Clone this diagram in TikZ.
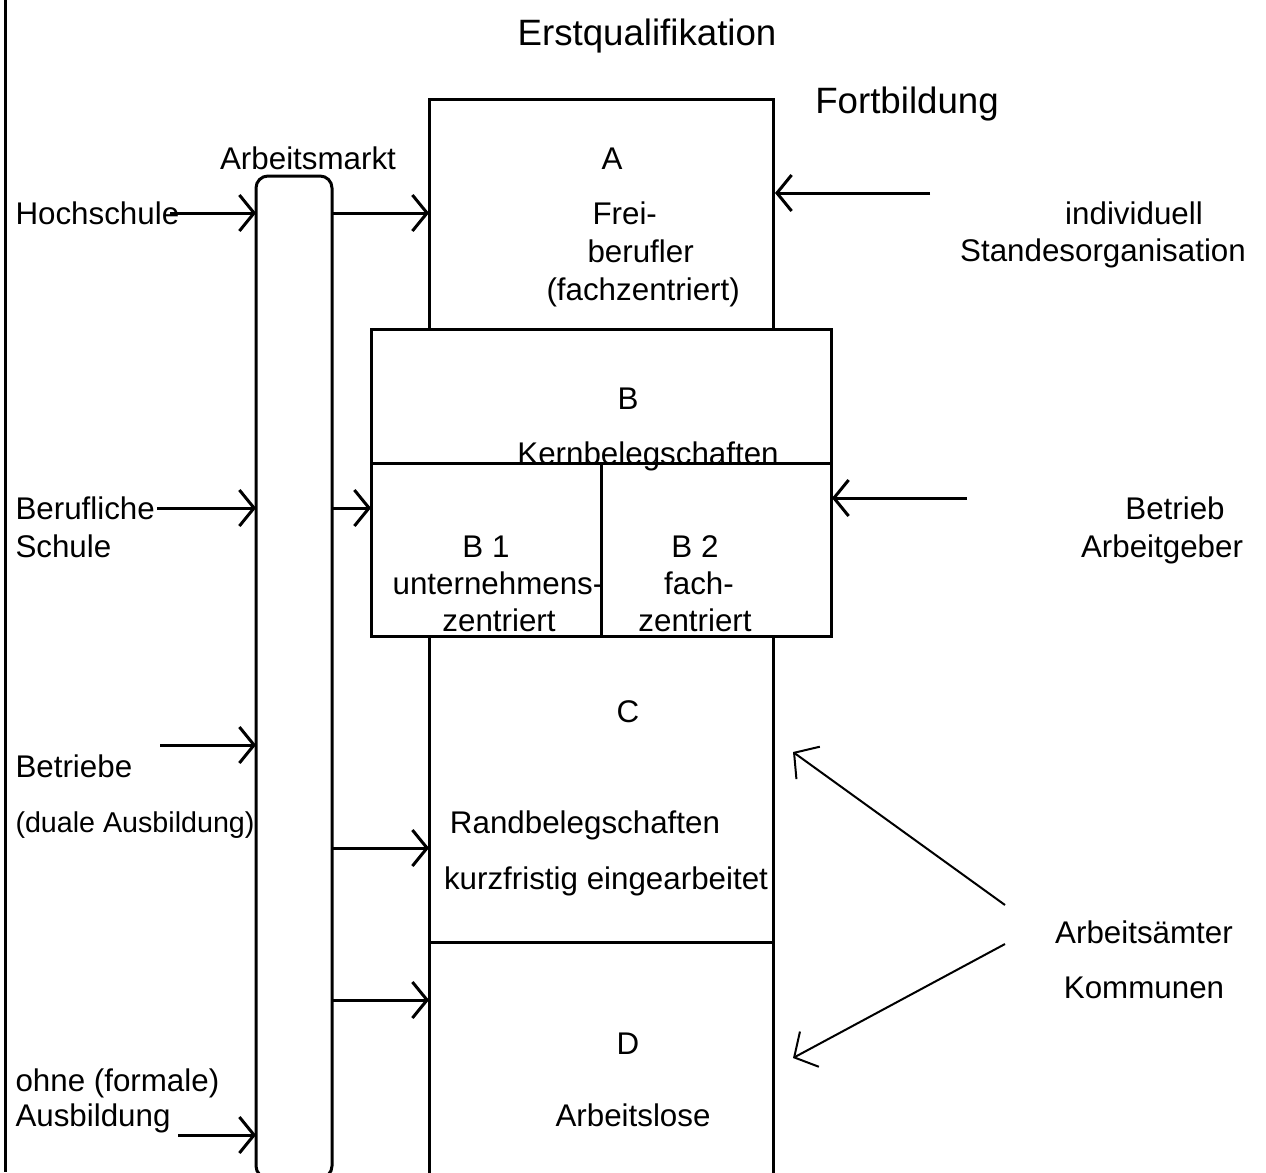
\documentclass[tikz,border=0pt]{standalone}
\usepackage{fontspec}
\setmainfont{Liberation Sans}
\usetikzlibrary{arrows.meta}
\begin{document}
\begin{tikzpicture}[x=0.75pt,y=-0.75pt,line width=2.25pt,
  arr/.style={-{Straight Barb[length=11pt,width=27pt]}},
  darr/.style={line width=1.5pt,-{Straight Barb[length=13pt,width=30pt]}},
  txt/.style={inner sep=0pt,font=\fontsize{23.5}{28}\selectfont},
  big/.style={inner sep=0pt,font=\fontsize{27.5}{33}\selectfont},
  small/.style={inner sep=0pt,font=\fontsize{21.5}{26}\selectfont}]
\useasboundingbox (0,0) rectangle (1266,1172);

% left border
\draw (5,0) -- (5,1172);

% Arbeitsmarkt column
\node (am) [draw,rounded corners=9pt,inner sep=0pt,minimum width=57pt,minimum height=751.5pt] at (294,677) {};

% main column
\draw (429,329) -- (429,99) -- (773,99) -- (773,329);
\draw (371,329) rectangle (831,636);
\draw (371,463) -- (831,463);
\draw (601,463) -- (601,636);
\draw (429,636) -- (429,1180);
\draw (773,636) -- (773,1180);
\draw (429,942) -- (773,942);

% texts
\node[big,anchor=base] (t1) at (647,45) {Erstqualifikation};
\node[big,anchor=base] (t2) at (907,113) {Fortbildung};
\node[txt,anchor=base] (t3) at (308,169) {Arbeitsmarkt};
\node[txt,anchor=base west] (hs) at (14,224) {Hochschule};
\node[txt,anchor=base] at (612,169) {A};
\node[txt,anchor=base west] at (591,224) {Frei-};
\node[txt,anchor=base west] at (586,262) {berufler};
\node[txt,anchor=base west] at (545,300) {(fachzentriert)};
\node[txt,anchor=base] (ind) at (1134,224) {individuell};
\node[txt,anchor=base] at (1103,261) {Standesorganisation};
\node[txt,anchor=base] at (628,409) {B};
\node[txt,anchor=base] at (648,464) {Kernbelegschaften};
\node[txt,anchor=base west] (bs) at (14,519) {Berufliche};
\node[txt,anchor=base west] at (14,557) {Schule};
\node[txt,anchor=base] (btr) at (1175,519) {Betrieb};
\node[txt,anchor=base] at (1162,557) {Arbeitgeber};
\node[txt,anchor=base] at (486,557) {B 1};
\node[txt,anchor=base] at (498,594) {unternehmens-};
\node[txt,anchor=base] at (499,631) {zentriert};
\node[txt,anchor=base] at (695,557) {B 2};
\node[txt,anchor=base] at (699,594) {fach-};
\node[txt,anchor=base] at (695,631) {zentriert};
\node[txt,anchor=base] at (628,722) {C};
\node[txt,anchor=base west] (bb) at (14,777) {Betriebe};
\node[small,anchor=base west] at (14,832) {(duale Ausbildung)};
\node[txt,anchor=base] at (585,833) {Randbelegschaften};
\node[txt,anchor=base] at (606,889) {kurzfristig eingearbeitet};
\node[txt,anchor=base] (aa) at (1144,943) {Arbeitsämter};
\node[txt,anchor=base] (km) at (1144,998) {Kommunen};
\node[txt,anchor=base] at (628,1054) {D};
\node[txt,anchor=base west] at (14,1091) {ohne (formale)};
\node[txt,anchor=base west] (oa) at (14,1126) {Ausbildung};
\node[txt,anchor=base] at (633,1126) {Arbeitslose};

% arrow end points
\coordinate (h0) at (170,213);  \coordinate (h1) at (256,213);
\coordinate (a0) at (333,213);  \coordinate (a1) at (429,213);
\coordinate (i0) at (930,193);  \coordinate (i1) at (775,193);
\coordinate (b0) at (157,508);  \coordinate (b1) at (256,508);
\coordinate (c0) at (333,508);  \coordinate (c1) at (371,508);
\coordinate (e0) at (967,498);  \coordinate (e1) at (832,498);
\coordinate (d0) at (160,745);  \coordinate (d1) at (256,745);
\coordinate (f0) at (333,848);  \coordinate (f1) at (429,848);
\coordinate (g0) at (333,1000); \coordinate (g1) at (429,1000);
\coordinate (o0) at (178,1135); \coordinate (o1) at (256,1135);
\coordinate (x0) at (1005,905); \coordinate (x1) at (793,752);
\coordinate (y0) at (1005,944); \coordinate (y1) at (793,1058);

\draw[arr] (h0) -- (h1);
\draw[arr] (a0) -- (a1);
\draw[arr] (i0) -- (i1);
\draw[arr] (b0) -- (b1);
\draw[arr] (c0) -- (c1);
\draw[arr] (e0) -- (e1);
\draw[arr] (d0) -- (d1);
\draw[arr] (f0) -- (f1);
\draw[arr] (g0) -- (g1);
\draw[arr] (o0) -- (o1);
\draw[darr] (x0) -- (x1);
\draw[darr] (y0) -- (y1);
\end{tikzpicture}
\end{document}
